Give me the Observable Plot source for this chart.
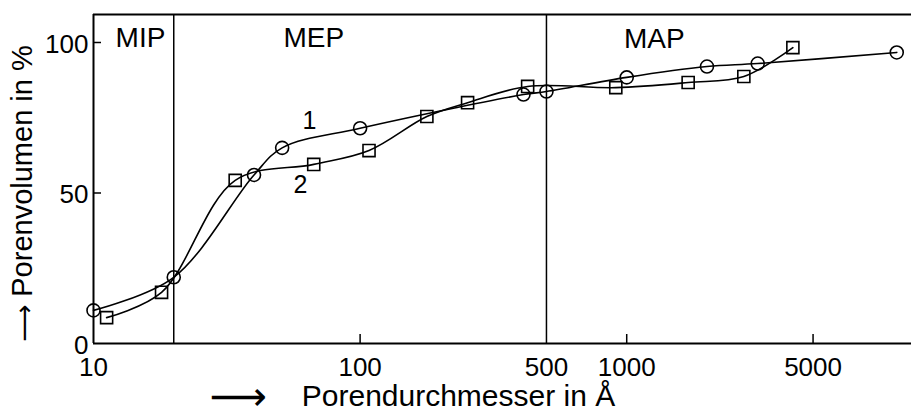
<!DOCTYPE html>
<html><head><meta charset="utf-8">
<script src="https://cdn.jsdelivr.net/npm/d3@7"></script>
<script src="https://cdn.jsdelivr.net/npm/@observablehq/plot@0.6"></script>
<style>html,body{margin:0;padding:0;background:#fff}#chart svg{display:block}</style>
</head><body><div id="chart"></div>
<script>
// Curve 1 (circles)
const series1X = [10, 20, 40, 51, 100, 410, 500, 1000, 2000, 3100, 10300];
const series1Y = [11, 22, 56, 65, 71.5, 82.7, 83.7, 88.4, 92, 93, 96.7];
// Curve 2 (squares)
const series2X = [11.2, 18, 34, 67, 108, 178, 253, 425, 910, 1700, 2750, 4200];
const series2Y = [8.6, 17, 54.2, 59.5, 64.1, 75.4, 80, 85.4, 85, 86.7, 88.7, 98.3];

const xTicks = [10, 100, 500, 1000, 5000];
const xTickLabels = ["10", "100", "500", "1000", "5000"];
const yTicks = [0, 50, 100];
const yTickLabels = ["0", "50", "100"];
const innerXTicks = [100, 1000, 5000];
const innerYTicks = [50, 100];
const boundaries = [20, 500];
const regionNames = ["MIP", "MEP", "MAP"];
const regionX = [15, 67, 1270];
const regionY = [101.5, 101.5, 101.3];
const curveNames = ["1", "2"];
const curveLabelX = [64.6, 59.8];
const curveLabelY = [73.8, 52.5];
const xDomain = [10, 11700];
const yDomain = [0, 109.3];
const xTitle = "Porendurchmesser in Å";
const yTitle = "Porenvolumen in %";
const arrowGlyph = "⟶";

const s1 = series1X.map((x, i) => ({x, y: series1Y[i]}));
const s2 = series2X.map((x, i) => ({x, y: series2Y[i]}));
const regions = regionNames.map((t, i) => ({t, x: regionX[i], y: regionY[i]}));
const curveLabels = curveNames.map((t, i) => ({t, x: curveLabelX[i], y: curveLabelY[i]}));
const xTickData = xTicks.map((x, i) => ({x, t: xTickLabels[i]}));

const chart = Plot.plot({
  width: 911,
  height: 411,
  marginLeft: 93,
  marginRight: 0,
  marginTop: 14,
  marginBottom: 68,
  style: {fontFamily: "Liberation Sans, Arial, sans-serif", background: "#fff", color: "#000"},
  x: {type: "log", domain: xDomain, label: null, axis: null},
  y: {domain: yDomain, label: null},
  marks: [
    Plot.ruleY([yDomain[0], yDomain[1]], {stroke: "#000", strokeWidth: 2}),
    Plot.ruleX([xDomain[0]], {stroke: "#000", strokeWidth: 2}),
    Plot.ruleX(boundaries, {stroke: "#000", strokeWidth: 1.5}),
    Plot.axisX({ticks: innerXTicks, tickSize: -9, tickFormat: () => "", strokeWidth: 1.5, label: null}),
    Plot.axisY({ticks: innerYTicks, tickSize: -8, tickFormat: () => "", strokeWidth: 1.5, label: null}),
    Plot.text(xTickData, {x: "x", text: "t", frameAnchor: "bottom", lineAnchor: "top", textAnchor: "middle", dy: 14, fontSize: 26, fill: "#000"}),
    Plot.axisY({ticks: yTicks, tickSize: 0, tickPadding: 5, fontSize: 26, dy: 2,
      tickFormat: d => yTickLabels[yTicks.indexOf(d)], label: null}),
    Plot.line(s1, {x: "x", y: "y", curve: "catmull-rom", stroke: "#000", strokeWidth: 1.6}),
    Plot.line(s2, {x: "x", y: "y", curve: "catmull-rom", stroke: "#000", strokeWidth: 1.6}),
    Plot.dot(s1, {x: "x", y: "y", r: 6.5, symbol: "circle", stroke: "#000", strokeWidth: 1.6, fill: "none"}),
    Plot.dot(s2, {x: "x", y: "y", r: 6.8, symbol: "square", stroke: "#000", strokeWidth: 1.6, fill: "none"}),
    Plot.text(regions, {x: "x", y: "y", text: "t", fontSize: 28, textAnchor: "middle", lineAnchor: "middle", fill: "#000"}),
    Plot.text(curveLabels, {x: "x", y: "y", text: "t", fontSize: 25, textAnchor: "middle", lineAnchor: "middle", fill: "#000"}),
    Plot.text([xTitle], {frameAnchor: "bottom", textAnchor: "middle", dx: -44, dy: 53, fontSize: 30, lineAnchor: "middle", fill: "#000"}),
    Plot.text([arrowGlyph], {frameAnchor: "bottom", textAnchor: "middle", dx: -264, dy: 54, fontSize: 40, fontFamily: "DejaVu Sans", lineAnchor: "middle", fill: "#000"}),
    Plot.text([yTitle], {frameAnchor: "left", textAnchor: "middle", dx: -71, dy: -8, rotate: -90, fontSize: 29, lineAnchor: "middle", fill: "#000"}),
    Plot.text([arrowGlyph], {frameAnchor: "left", textAnchor: "middle", dx: -69, dy: 144, rotate: -90, fontSize: 26, fontFamily: "DejaVu Sans", lineAnchor: "middle", fill: "#000"})
  ]
});
document.getElementById("chart").appendChild(chart);
</script>
</body></html>
